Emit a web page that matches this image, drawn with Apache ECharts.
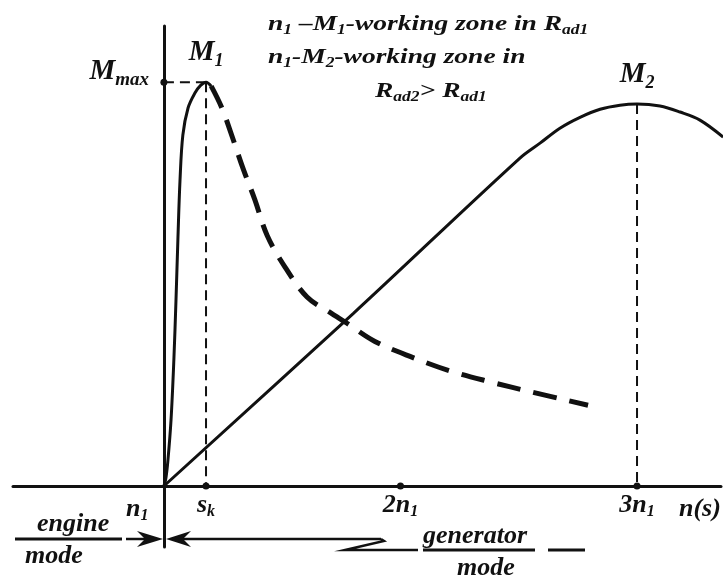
<!DOCTYPE html>
<html><head><meta charset="utf-8">
<script src="https://cdn.jsdelivr.net/npm/echarts@6/dist/echarts.min.js"></script>
<style>html,body{margin:0;padding:0;background:#fff}#c{width:728px;height:578px}</style>
</head><body><div id="c"></div>
<script>
// x = (n - n1) / n1   (0 -> n1, 1 -> 2n1, 2 -> 3n1);  y = M / Mmax
const m1Curve = [[0,0],[0.0085,0.020],[0.017,0.064],[0.030,0.163],[0.042,0.312],[0.051,0.460],[0.059,0.609],[0.068,0.757],[0.080,0.869],[0.102,0.936],[0.131,0.973],[0.155,0.992],[0.178,1.0],[0.200,0.990]];
const m1Unstable = [[0.200,0.990],[0.245,0.936],[0.288,0.866],[0.334,0.787],[0.385,0.708],[0.436,0.621],[0.512,0.542],[0.605,0.468],[0.702,0.430],[0.774,0.403],[0.892,0.358],[1.053,0.318],[1.209,0.285],[1.378,0.258],[1.560,0.232],[1.793,0.200]];
const m2Curve = [[0,0],[0.8,0.427],[1.505,0.812],[1.590,0.849],[1.674,0.886],[1.759,0.913],[1.844,0.933],[1.928,0.943],[2.0,0.946],[2.097,0.941],[2.182,0.926],[2.266,0.906],[2.364,0.864]];
const skValue = 0.178;
const tickValues = [skValue, 1, 2];
const tickLabels = ['{s|s}{sub|k}', '{n|2n}{sub|1}', '{n|3n}{sub|1}'];
const axisDots = [[0,1],[skValue,0],[1,0],[2,0]];
const peaks = [[skValue,1.0],[2.0,0.946]];
const peakLabels = ['{n|M}{sub|1}', '{n|M}{sub|2}'];
const guideMmax = [[0,1],[skValue,1]];
const guideSk = [[skValue,1],[skValue,0]];
const guideM2 = [[2.0,0.946],[2.0,0]];
const note1 = '{n|n}{sub|1}{n| –M}{sub|1}{n|-working zone in R}{sub|ad1}';
const note2 = '{n|n}{sub|1}{n|-M}{sub|2}{n|-working zone in}';
const note3 = '{n|R}{sub|ad2}{n|> R}{sub|ad1}';

const FF = 'Liberation Serif';
const INK = '#111';
function rich(F, S, d) {
  const L = Math.round(0.8 * F + 0.2 * S + (d || 4));
  const base = {fontFamily: FF, fontStyle: 'italic', fontWeight: 'bold', color: INK};
  return {
    n: Object.assign({}, base, {fontSize: F, lineHeight: L, verticalAlign: 'top'}),
    s: Object.assign({}, base, {fontSize: F, lineHeight: L, verticalAlign: 'top'}),
    m: Object.assign({}, base, {fontSize: F, lineHeight: L, verticalAlign: 'top'}),
    sub: Object.assign({}, base, {fontSize: S, lineHeight: S, verticalAlign: 'bottom'})
  };
}
function gText(x, y, text, F, S, sx) {
  return {type: 'text', x: x, y: y, scaleX: sx || 1, z: 10,
    style: {text: text, x: 0, y: 0, rich: S ? rich(F, S) : undefined,
      fontFamily: FF, fontStyle: 'italic', fontWeight: 'bold', fontSize: F, fill: INK,
      align: 'left', verticalAlign: 'middle', textAlign: 'left', textVerticalAlign: 'middle'}};
}
function gLine(x1, y1, x2, y2, w) {
  return {type: 'line', z: 10, shape: {x1: x1, y1: y1, x2: x2, y2: y2}, style: {stroke: INK, lineWidth: w || 2.5}};
}
function gPoly(pts, closed) {
  return closed ? {type: 'polygon', z: 10, shape: {points: pts}, style: {fill: INK}}
                : {type: 'polyline', z: 10, shape: {points: pts}, style: {stroke: INK, lineWidth: 2.5, fill: null}};
}
const guideStyle = {color: INK, width: 2, type: [10, 6]};

const chart = echarts.init(document.getElementById('c'), null, {renderer: 'canvas'});
chart.setOption({
  animation: false,
  backgroundColor: '#fff',
  grid: {left: 13, right: 7, top: 26, bottom: 31, containLabel: false, outerBoundsMode: 'none'},
  xAxis: {
    type: 'value', min: -0.638, max: 2.355, position: 'bottom', offset: -61,
    axisLine: {onZero: false, lineStyle: {color: INK, width: 3}},
    axisTick: {show: false}, splitLine: {show: false},
    axisLabel: {
      customValues: tickValues, margin: 6, rich: rich(26, 16),
      formatter: function (v) {
        const i = tickValues.findIndex(t => Math.abs(t - v) < 1e-6);
        return i >= 0 ? tickLabels[i] : '';
      }
    },
    name: 'n(s)', nameLocation: 'end', nameGap: -42,
    nameTextStyle: {fontFamily: FF, fontStyle: 'italic', fontWeight: 'bold', fontSize: 26, color: INK, align: 'left', verticalAlign: 'top', lineHeight: 47}
  },
  yAxis: {
    type: 'value', min: -0.151, max: 1.139, position: 'left', offset: -151,
    axisLine: {onZero: false, lineStyle: {color: INK, width: 3}},
    axisTick: {show: false}, splitLine: {show: false},
    axisLabel: {customValues: [1], margin: 15, rich: rich(29, 19, 5), padding: [0, 0, 18, 0],
      formatter: function () { return '{m|M}{sub|max}'; }}
  },
  series: [
    {name: 'M1', type: 'line', data: m1Curve, smooth: 0.35, showSymbol: false, lineStyle: {color: INK, width: 3}, z: 3},
    {name: 'M1 unstable', type: 'line', data: m1Unstable, smooth: 0.35, showSymbol: false, lineStyle: {color: INK, width: 5, type: [24, 13]}, z: 3},
    {name: 'M2', type: 'line', data: m2Curve, smooth: 0.35, showSymbol: false, lineStyle: {color: INK, width: 3}, z: 3},
    {name: 'Mmax guide', type: 'line', data: guideMmax, showSymbol: false, lineStyle: guideStyle, z: 2},
    {name: 'sk guide', type: 'line', data: guideSk, showSymbol: false, lineStyle: guideStyle, z: 2},
    {name: 'M2 guide', type: 'line', data: guideM2, showSymbol: false, lineStyle: guideStyle, z: 2},
    {name: 'dots', type: 'scatter', data: axisDots, symbolSize: 7, itemStyle: {color: INK, opacity: 1}, z: 5},
    {name: 'peaks', type: 'scatter', data: peaks, symbolSize: 0, z: 5, itemStyle: {color: INK, opacity: 1},
      label: {show: true, position: 'top', distance: 12, color: INK, opacity: 1, rich: rich(29, 18, 5),
        formatter: function (p) { return peakLabels[p.dataIndex]; }}}
  ],
  graphic: [
    gText(268, 25, note1, 22, 14, 1.25),
    gText(268, 58, note2, 22, 14, 1.25),
    gText(375, 92, note3, 22, 14, 1.25),
    gText(126, 510, '{n|n}{sub|1}', 26, 16),
    gText(37, 524, 'engine', 26),
    gText(25, 556, 'mode', 26),
    gText(423, 536, 'generator', 26),
    gText(457, 568, 'mode', 26),
    gLine(15, 539, 122, 539, 3),
    gLine(126, 539, 145, 539),
    gPoly([[137,531],[163,539],[137,547],[145,539]], true),
    gPoly([[191,531],[166,539],[191,547],[183,539]], true),
    gLine(183, 539, 381, 539),
    gPoly([[381,539],[384,541],[345,550],[418,550]], false),
    gLine(423, 550, 535, 550, 3),
    gLine(548, 550, 585, 550, 3)
  ]
});
</script>
</body></html>
